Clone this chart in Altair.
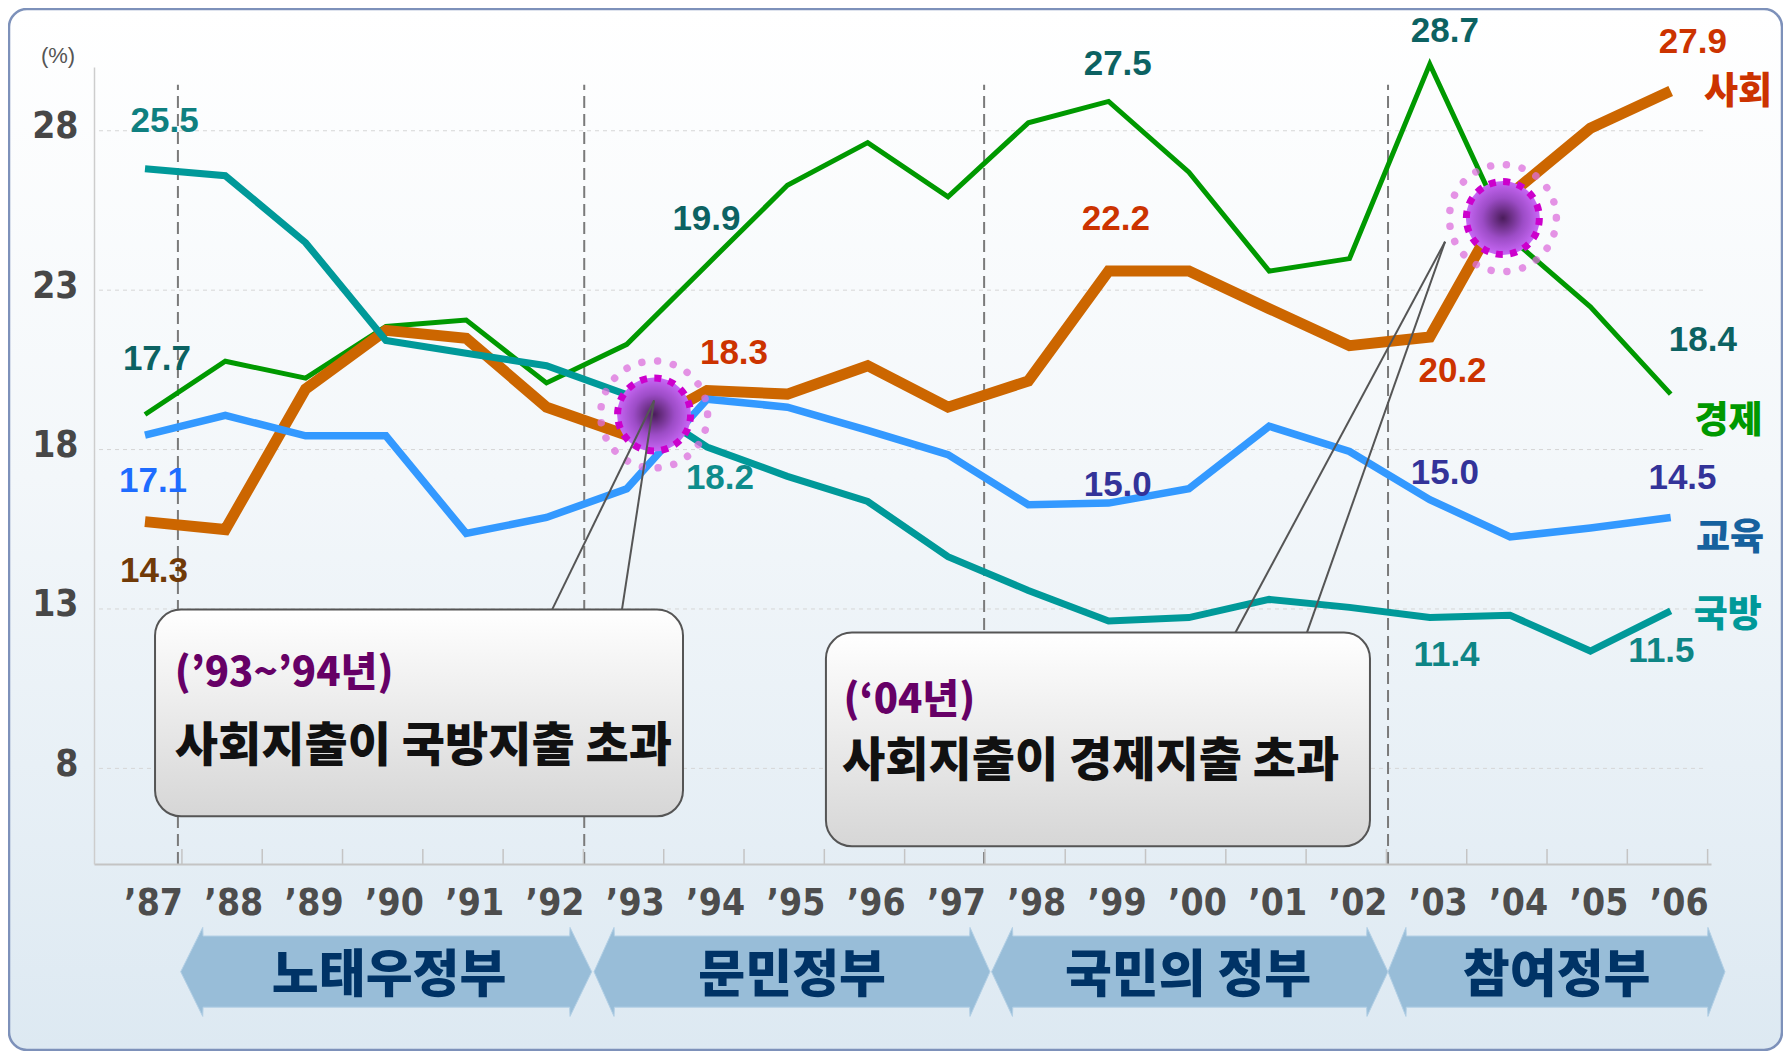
import altair as alt
import pandas as pd

# ---------------- data ----------------
years = [1987, 1988, 1989, 1990, 1991, 1992, 1993, 1994, 1995, 1996,
         1997, 1998, 1999, 2000, 2001, 2002, 2003, 2004, 2005, 2006]
year_labels = ["’87", "’88", "’89", "’90", "’91", "’92", "’93", "’94", "’95", "’96",
               "’97", "’98", "’99", "’00", "’01", "’02", "’03", "’04", "’05", "’06"]

social = [15.74, 15.49, 19.90, 21.74, 21.49, 19.33, 18.45, 19.85, 19.74, 20.63,
          19.33, 20.15, 23.60, 23.60, 22.42, 21.26, 21.53, 26.00, 28.08, 29.25]
economy = [19.10, 20.77, 20.24, 21.86, 22.06, 20.09, 21.30, 23.80, 26.29, 27.63,
           25.93, 28.25, 28.92, 26.70, 23.60, 23.99, 30.09, 24.65, 22.48, 19.74]
education = [18.45, 19.07, 18.43, 18.43, 15.37, 15.87, 16.77, 19.58, 19.33, 18.60,
             17.84, 16.27, 16.32, 16.77, 18.73, 17.94, 16.43, 15.26, 15.54, 15.87]
defense = [26.81, 26.59, 24.49, 21.42, 21.02, 20.63, 19.72, 18.08, 17.16, 16.37,
           14.64, 13.58, 12.62, 12.73, 13.30, 13.05, 12.73, 12.80, 11.68, 12.94]

y_ticks = [8, 13, 18, 23, 28]
unit_label = "(%)"

value_labels = ["25.5", "17.7", "17.1", "14.3", "19.9", "18.3", "18.2", "27.5", "22.2",
                "15.0", "28.7", "27.9", "20.2", "18.4", "15.0", "14.5", "11.4", "11.5"]
series_labels = ["사회", "경제", "교육", "국방"]
gov_names = ["노태우정부", "문민정부", "국민의 정부", "참여정부"]
note_titles = ["(’93~’94년)", "(‘04년)"]
note_texts = ["사회지출이 국방지출 초과", "사회지출이 경제지출 초과"]

# ---------------- layout / style ----------------
W, H = 1617, 797
XDOM = [1986.365, 2006.502]
YDOM = [5, 30]
xs = alt.Scale(domain=XDOM, nice=False, zero=False)
ys = alt.Scale(domain=YDOM, nice=False, zero=False)

AXIS_FONT = "Liberation Sans Narrow, DejaVu Sans Condensed, Liberation Sans, Arial"
NUM_FONT = "Liberation Sans, Arial"
KR_FONT = "Noto Sans CJK KR"

label_expr = "[" + ",".join("'" + s + "'" for s in year_labels) + "][datum.value - 1987]"
AX_X = alt.Axis(values=years, labelExpr=label_expr, ticks=False, grid=False,
                domain=True, domainColor="#c4c4c4", domainWidth=2,
                labelFont=AXIS_FONT, labelFontSize=37, labelFontWeight="bold",
                labelColor="#4d4d4d", labelPadding=39, labelBaseline="middle",
                labelOffset=8, labelFlush=False, labelOverlap=False, title=None,
                zindex=1)
AX_Y = alt.Axis(values=y_ticks, ticks=False, grid=False, domain=True,
                domainColor="#cdcdcd", domainWidth=1.5,
                labelFont=AXIS_FONT, labelFontSize=37, labelFontWeight="bold",
                labelColor="#474747", labelPadding=16, labelOffset=-4,
                labelFlush=False, labelOverlap=False, title=None, zindex=1)


def X(f):
    return alt.X(f, type="quantitative", scale=xs, axis=AX_X)


def Y(f):
    return alt.Y(f, type="quantitative", scale=ys, axis=AX_Y)


BG_GRAD = {"gradient": "linear", "x1": 0, "y1": 0, "x2": 0, "y2": 1,
           "stops": [{"offset": 0, "color": "#ffffff"},
                     {"offset": 0.45, "color": "#f3f7fa"},
                     {"offset": 1, "color": "#dde9f2"}]}
BOX_GRAD = {"gradient": "linear", "x1": 0, "y1": 0, "x2": 0, "y2": 1,
            "stops": [{"offset": 0, "color": "#ffffff"},
                      {"offset": 1, "color": "#d6d6d6"}]}
TAIL_GRAD = {"gradient": "linear", "x1": 0, "y1": 0, "x2": 0, "y2": 1,
             "stops": [{"offset": 0, "color": "#d4d4d4"},
                       {"offset": 1, "color": "#ffffff"}]}
ORB_GRAD = {"gradient": "radial", "x1": 0.5, "y1": 0.5, "r1": 0,
            "x2": 0.5, "y2": 0.5, "r2": 0.5,
            "stops": [{"offset": 0, "color": "#4a1c5a"},
                      {"offset": 0.55, "color": "#9c4cc6"},
                      {"offset": 1, "color": "#c868f6"}]}

one = pd.DataFrame({"k": [0]})

# background frame
bg = alt.Chart(one).mark_rect(fill=BG_GRAD, stroke="#7d91ba", strokeWidth=2.5,
                              cornerRadius=18).encode(
    x=alt.value(-85), x2=alt.value(W + 71), y=alt.value(-58), y2=alt.value(H + 186))

# grid lines
grid = alt.Chart(pd.DataFrame({"v": y_ticks})).mark_rule(
    color="#d6d6d6", strokeWidth=1, strokeDash=[4, 4]).encode(
    y=Y("v"), x=alt.value(5), x2=alt.value(W - 4))

# government boundary dashed lines
bounds = pd.DataFrame({"b": [1987.41, 1992.47, 1997.45, 2002.48], "y0": 5, "y1": 29.44})
vlines = alt.Chart(bounds).mark_rule(color="#7a7a7a", strokeWidth=2,
                                     strokeDash=[12, 6]).encode(
    x=X("b"), y=Y("y0"), y2=alt.Y2("y1"))

# band boundary tick marks on x axis
tickdf = pd.DataFrame({"t": [y + 0.46 for y in years], "y0": 5, "y1": 5.47})
ticks = alt.Chart(tickdf).mark_rule(color="#c4c4c4", strokeWidth=1.5).encode(
    x=X("t"), y=Y("y0"), y2=alt.Y2("y1"))

series = [
    ("경제", economy, "#009900", 5),
    ("사회", social, "#cc6600", 11),
    ("국방", defense, "#009999", 7),
    ("교육", education, "#3399ff", 7.5),
]
line_layers = []
for name, vals, col, w in series:
    df = pd.DataFrame({"year": years, "value": vals, "series": name})
    line_layers.append(
        alt.Chart(df).mark_line(color=col, strokeWidth=w, strokeJoin="miter").encode(
            x=X("year"), y=Y("value")))

# highlight orbs at the crossings
orbs = pd.DataFrame({"x": [1993.34, 2003.91], "y": [19.10, 25.26]})
orb_fill = alt.Chart(orbs).mark_circle(size=74 ** 2, fill=ORB_GRAD, opacity=1,
                                       strokeWidth=0).encode(x=X("x"), y=Y("y"))
orb_ring = alt.Chart(orbs).mark_point(shape="circle", size=73 ** 2, filled=False,
                                      stroke="#cc00cc", strokeWidth=7,
                                      strokeDash=[7, 7.33], opacity=1).encode(
    x=X("x"), y=Y("y"))
orb_dots = alt.Chart(orbs).mark_point(shape="circle", size=107 ** 2, filled=False,
                                      stroke="#dd6fdd", strokeWidth=7.5,
                                      strokeDash=[0.01, 15.95], strokeCap="round",
                                      opacity=0.75).encode(x=X("x"), y=Y("y"))

# callout boxes
boxes = pd.DataFrame({"x": [1987.125, 1995.48], "x2": [1993.70, 2002.255],
                      "y": [12.98, 12.26], "y2": [6.495, 5.555]})
box = alt.Chart(boxes).mark_rect(fill=BOX_GRAD, stroke="#555555", strokeWidth=2,
                                 cornerRadius=26).encode(
    x=X("x"), x2=alt.X2("x2"), y=Y("y"), y2=alt.Y2("y2"))

tails = pd.DataFrame({
    "g": ["a", "a", "b", "b"], "i": [0, 1, 0, 1],
    "y": [12.92, 19.54, 12.20, 24.52],
    "x": [1992.07, 1993.34, 2000.58, 2003.19],
    "x2": [1992.94, 1993.34, 2001.47, 2003.19]})
tail = alt.Chart(tails).mark_area(orient="horizontal", fill=TAIL_GRAD, opacity=1).encode(
    y=Y("y"), x=X("x"), x2=alt.X2("x2"), detail="g:N", order="i:Q")
tail_edges = pd.DataFrame({
    "x": [1992.07, 1992.94, 2000.58, 2001.47], "y": [12.98, 12.98, 12.26, 12.26],
    "x2": [1993.34, 1993.34, 2003.19, 2003.19], "y2": [19.54, 19.54, 24.52, 24.52]})
tail_line = alt.Chart(tail_edges).mark_rule(color="#555555", strokeWidth=2).encode(
    x=X("x"), y=Y("y"), x2=alt.X2("x2"), y2=alt.Y2("y2"))

notes_t = pd.DataFrame({"t": note_titles, "x": [1987.37, 1995.70], "y": [10.95, 10.10]})
note_title = alt.Chart(notes_t).mark_text(font=KR_FONT, fontSize=40, fontWeight=900,
                                          color="#660066", align="left",
                                          baseline="middle").encode(
    x=X("x"), y=Y("y"), text="t:N")
notes_b = pd.DataFrame({"t": note_texts, "x": [1987.37, 1995.68], "y": [8.66, 8.19]})
note_body = alt.Chart(notes_b).mark_text(font=KR_FONT, fontSize=47, fontWeight=900,
                                         color="#111111", align="left",
                                         baseline="middle").encode(
    x=X("x"), y=Y("y"), text="t:N")

# value labels
vl = pd.DataFrame({
    "t": value_labels,
    "x": [1987.244, 1987.149, 1987.10, 1987.112, 1993.992, 1994.335, 1994.16, 1999.114,
          1999.09, 1999.114, 2003.188, 2006.277, 2003.283, 2006.40, 2003.188, 2006.147,
          2003.208, 2005.885],
    "y": [28.30, 20.85, 17.00, 14.19, 25.22, 21.02, 17.10, 30.09, 25.22, 16.88, 31.13,
          30.79, 20.46, 21.45, 17.27, 17.10, 11.57, 11.68],
    "c": ["#0f8080", "#0c6262", "#1e6cff", "#703a08", "#0c6262", "#cc3300", "#0e8c8c",
          "#0c6262", "#cc3300", "#333399", "#0c6262", "#cc3300", "#cc3300", "#0c6262",
          "#333399", "#333399", "#0e8585", "#0e8585"]})
vlabels = alt.Chart(vl).mark_text(font=NUM_FONT, fontSize=35, fontWeight="bold",
                                  align="center", baseline="middle").encode(
    x=X("x"), y=Y("y"), text="t:N", color=alt.Color("c:N", scale=None))

sl = pd.DataFrame({"t": series_labels, "x": [2006.838, 2006.72, 2006.74, 2006.71],
                   "y": [29.17, 18.85, 15.21, 12.77],
                   "c": ["#cc3300", "#009900", "#16619e", "#009999"]})
slabels = alt.Chart(sl).mark_text(font=KR_FONT, fontSize=37, fontWeight=900,
                                  align="center", baseline="middle").encode(
    x=X("x"), y=Y("y"), text="t:N", color=alt.Color("c:N", scale=None))

unit = alt.Chart(pd.DataFrame({"t": [unit_label], "x": [1985.917], "y": [30.33]})).mark_text(
    font=NUM_FONT, fontSize=22, color="#555555", align="center", baseline="middle").encode(
    x=X("x"), y=Y("y"), text="t:N")

# government arrows
arrow_x = [(1987.445, 1987.719, 1992.293, 1992.563),
           (1992.592, 1992.841, 1997.274, 1997.523),
           (1997.543, 1997.803, 2002.218, 2002.479),
           (2002.479, 2002.703, 2006.464, 2006.676)]
rows = []
C, BT, BB, ST, SB = 1.62, 3.01, 0.22, 2.74, 0.51
eps = 0.004
for gi, (tl, bl, br, tr) in enumerate(arrow_x):
    pts = [(tl, C, C), (bl, BT, BB), (bl + eps, ST, SB), (br - eps, ST, SB),
           (br, BT, BB), (tr, C, C)]
    for j, (px, a, b) in enumerate(pts):
        rows.append({"g": gi, "i": j, "x": px, "y": a, "y2": b})
arrows = alt.Chart(pd.DataFrame(rows)).mark_area(
    orient="vertical", fill="#98bdd8", stroke="#b2cfe5", strokeWidth=1,
    opacity=1).encode(
    x=X("x"), y=Y("y"), y2=alt.Y2("y2"), detail="g:N")

gov = pd.DataFrame({"t": gov_names, "x": [1990.04, 1995.06, 1999.99, 2004.58],
                    "y": [1.47, 1.47, 1.47, 1.47]})
gov_text = alt.Chart(gov).mark_text(font=KR_FONT, fontSize=51, fontWeight=900,
                                    color="#003366", align="center",
                                    baseline="middle").encode(
    x=X("x"), y=Y("y"), text="t:N")

chart = alt.layer(
    bg, grid, vlines, ticks, *line_layers, vlabels, orb_fill, orb_ring, orb_dots,
    box, tail, tail_line, note_title, note_body, slabels, unit, arrows, gov_text
).properties(
    width=W, height=H,
    autosize=alt.AutoSizeParams(type="none"),
    padding={"left": 86, "top": 59, "right": 72, "bottom": 187},
).configure_view(strokeWidth=0)

chart.save("out.html", embed_options={"renderer": "svg", "actions": False})
